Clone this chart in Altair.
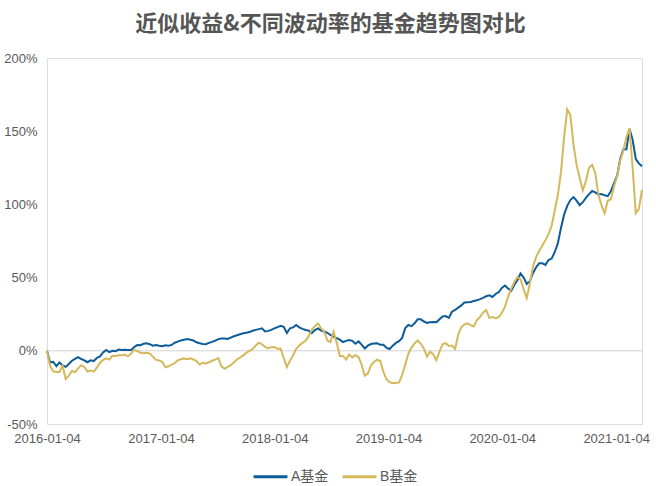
import altair as alt
import pandas as pd

title_text = "近似收益&不同波动率的基金趋势图对比"
series_names = ["A基金", "B基金"]
start_date = "2016-01-04"
step = "10D"

fund_a = [
    0, -8, -7.5, -10.5, -8, -10, -11, -9, -6.8, -5.5,
    -4.3, -5.6, -6.5, -7.8, -6.5, -7, -4.9, -3.8, -1.1, 0.6,
    -0.9, 0, -0.3, 0.8, 0.5, 0.7, 0.5, 0.5, 2.5, 4,
    3.8, 4.8, 5.2, 4.5, 3.5, 4, 3.5, 3.2, 3.8, 3.5,
    4, 5.5, 6.3, 7.1, 7.6, 8, 7.6, 7, 5.8, 5.2,
    4.6, 4.5, 5.4, 6.1, 7, 8, 8.4, 8.4, 8.1, 9,
    9.9, 10.6, 11.3, 12, 12.3, 12.8, 13.7, 14.3, 14.8, 15.3,
    13.2, 13.6, 14.3, 15.3, 16.2, 17, 16.4, 12.2, 15.4, 16,
    17.6, 16, 15, 14.2, 13.8, 12.1, 14.2, 15.3, 13.8, 13.2,
    12.3, 10.8, 9.7, 8.6, 7.6, 6, 6.8, 7.3, 6.8, 4.8,
    6.4, 4.2, 1.6, 3.5, 4.6, 5, 5.1, 4.1, 4.1, 2,
    1.2, 3.5, 5.4, 6.6, 8.8, 15.5, 17.6, 16.8, 18.8, 21.5,
    21.5, 20, 19.1, 19.5, 19.6, 19.5, 21.6, 23.5, 23.7, 22.5,
    26.7, 27.9, 29.5, 31, 33, 33.2, 33.4, 34, 34.5, 35.3,
    36.2, 37.3, 37.9, 36.8, 38.8, 40, 43, 44.6, 42.5, 41,
    45, 48.2, 52.8, 50, 45.7, 47.5, 53, 57, 59.8, 59.8,
    58.7, 62, 63, 67.5, 73.5, 84, 93, 99, 103, 105,
    102.6, 99.5, 101.5, 104.5, 107, 109.2, 108.2, 106.8, 107.1, 106.2,
    105.6, 109, 114.4, 119.5, 131, 137.5, 137.6, 151.5, 144, 131,
    128, 126,
]

fund_b = [
    0, -10.5, -14, -14.5, -14.5, -10, -19.2, -17, -13.8, -14.5,
    -12, -9.8, -11, -14.2, -13.5, -14.2, -11.5, -8.3, -6.1, -5.1,
    -6, -3.4, -3.6, -3, -3.1, -2.5, -3.8, -1.8, 0.6, -0.2,
    -1.3, -1.6, -1.3, -1.9, -4, -6.2, -6.6, -7.5, -11.3, -10.6,
    -9.5, -8.5, -6.4, -5.8, -5.2, -5.8, -5.2, -5.9, -7, -9.4,
    -8.2, -8.7, -7.8, -6.8, -6, -5, -10.6, -12.3, -11, -9.8,
    -7.8, -5.9, -4.6, -3.1, -1.3, 0, 1.2, 3.5, 5.6, 4.5,
    2.6, 1.8, 2.5, 2.6, 1.4, 1.5, -5, -11, -6.8, -3,
    1.4, 3.6, 5.4, 6.8, 10, 14.3, 16.8, 18.7, 15.3, 13.2,
    7, 6, 13, 5.5, -3.5, -3.5, -6, -2.5, -4.5, -3,
    -4.2, -9.5, -17, -15.5, -10, -7.5, -6.1, -7, -14.5, -19.5,
    -21.4, -22.1, -21.8, -21.7, -16.5, -9.3, -2, 2.2, 5.1, 7.1,
    4.8, 1.5, -3.9, -0.6, -2.4, -6.4, -0.5, 4.6, 5.2, 3.3,
    3.6, 1.3, 11, 16, 18, 18.7, 17.6, 16.6, 21, 23.2,
    26.2, 27.8, 22.5, 23, 22.3, 23, 26, 30, 36.8, 42.3,
    46.8, 50.5, 49, 42, 36, 46, 57.5, 64, 68.3, 71.8,
    75.6, 79.7, 85.5, 96, 106.5, 122, 146, 165, 161, 141,
    127, 118, 109.5, 116, 125, 127, 121.5, 106.5, 99.5, 94,
    102.5, 103.5, 112.2, 119, 130, 136.5, 146, 152, 125, 94,
    97, 110,
]

y_ticks = [-50, 0, 50, 100, 150, 200]
x_tick_dates = [(2016, 1, 4), (2017, 1, 4), (2018, 1, 4), (2019, 1, 4), (2020, 1, 4), (2021, 1, 4)]
colors = ["#0b5c99", "#d4b85a"]

dates = list(pd.date_range(start_date, periods=len(fund_a), freq=step))
df = pd.DataFrame({
    "date": dates + dates,
    "value": fund_a + fund_b,
    "fund": [series_names[0]] * len(fund_a) + [series_names[1]] * len(fund_b),
})
zero_df = pd.DataFrame({"y": [0]})

label_font = "Liberation Sans Narrow, Liberation Sans, Noto Sans CJK SC"
gray = "#595959"

zero_rule = alt.Chart(zero_df).mark_rule(color="#d3d3d3", strokeWidth=1).encode(
    y=alt.Y("y:Q", scale=alt.Scale(domain=[-50, 200], nice=False))
)

lines = alt.Chart(df).mark_line(strokeWidth=2).encode(
    x=alt.X(
        "date:T",
        scale=alt.Scale(nice=False),
        axis=alt.Axis(
            values=[alt.DateTime(year=y, month=m, date=d) for (y, m, d) in x_tick_dates],
            format="%Y-%m-%d",
            domain=False, ticks=False, grid=False, title=None,
            labelFlush=False, labelOverlap=False,
            labelFontSize=13, labelColor=gray, labelPadding=8, labelFont=label_font,
        ),
    ),
    y=alt.Y(
        "value:Q",
        scale=alt.Scale(domain=[-50, 200], nice=False),
        axis=alt.Axis(
            values=y_ticks, labelExpr="datum.value + '%'",
            domain=False, ticks=False, grid=False, title=None,
            labelFontSize=13, labelColor=gray, labelPadding=10, labelFont=label_font,
        ),
    ),
    color=alt.Color(
        "fund:N",
        scale=alt.Scale(domain=series_names, range=colors),
        legend=alt.Legend(
            orient="none", legendX=205, legendY=400, direction="horizontal", title=None,
            symbolType="stroke", symbolStrokeWidth=3, symbolSize=1150,
            labelFontSize=14, labelColor=gray, labelFont=label_font,
            columnPadding=7, labelOffset=2,
        ),
    ),
)

chart = alt.layer(zero_rule, lines).properties(
    width=595,
    height=366,
    padding={"left": 47, "top": 58, "right": 14, "bottom": 62},
    autosize=alt.AutoSizeParams(type="none"),
    title=alt.Title(
        title_text, fontSize=22, fontWeight="bold", color="#555555",
        anchor="middle", dx=-14, offset=16, font="Noto Sans CJK SC",
    ),
).configure_view(stroke=None).configure(background="white")

chart.save("out.html", embed_options={"renderer": "svg", "actions": False})
